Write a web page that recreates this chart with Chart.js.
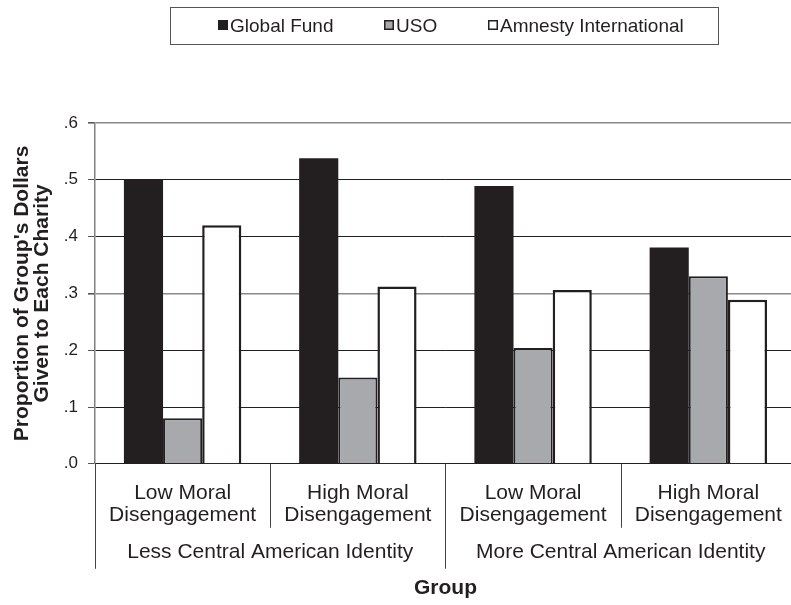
<!DOCTYPE html>
<html><head><meta charset="utf-8">
<script src="https://cdn.jsdelivr.net/npm/chart.js@4/dist/chart.umd.min.js"></script>
<style>
html,body{margin:0;padding:0;overflow:hidden;background:#fff;width:791px;height:605px}
#wrap{position:relative;width:800px;height:605px}
</style></head>
<body><div id="wrap"><canvas id="c" width="800" height="605"></canvas></div>
<script>
const categories = [['Low Moral','Disengagement'],['High Moral','Disengagement'],['Low Moral','Disengagement'],['High Moral','Disengagement']];
const groupLabels = ['Less Central American Identity','More Central American Identity'];
const seriesNames = ['Global Fund','USO','Amnesty International'];
const globalFund = [0.50, 0.538, 0.489, 0.381];
const uso = [0.08, 0.152, 0.204, 0.33];
const amnesty = [0.42, 0.312, 0.306, 0.289];
const yTickLabels = ['.0','.1','.2','.3','.4','.5','.6'];
const axisTitleY = ["Proportion of Group's Dollars", 'Given to Each Charity'];
const axisTitleX = 'Group';

const INK = '#231f20';
const FONT = "'Liberation Sans', Arial, sans-serif";
Chart.defaults.font.family = FONT;
Chart.defaults.color = INK;

const legendPlugin = {
  id: 'boxLegend',
  afterDraw(chart) {
    const ctx = chart.ctx;
    ctx.save();
    ctx.strokeStyle = '#555';
    ctx.lineWidth = 1;
    ctx.strokeRect(170.5, 7.5, 548, 37);
    const starts = [218, 384, 488];
    ctx.font = '19px ' + FONT;
    ctx.textBaseline = 'middle';
    ctx.textAlign = 'left';
    chart.data.datasets.forEach((ds, i) => {
      const x = starts[i];
      ctx.fillStyle = ds.backgroundColor;
      ctx.fillRect(x, 20, 10, 10);
      ctx.strokeStyle = INK;
      ctx.lineWidth = 1.5;
      ctx.strokeRect(x + 0.75, 20.75, 8.5, 8.5);
      ctx.fillStyle = INK;
      ctx.fillText(ds.label, x + 12, 27);
    });
    ctx.restore();
  }
};

const groupPlugin = {
  id: 'groupAxis',
  afterDraw(chart) {
    const xs = chart.scales.x;
    const ctx = chart.ctx;
    const n = categories.length;
    const half = (xs.getPixelForValue(1) - xs.getPixelForValue(0)) / 2;
    const bottom = chart.chartArea.bottom;
    ctx.save();
    ctx.strokeStyle = '#444';
    ctx.lineWidth = 1;
    for (let i = 0; i <= n; i++) {
      const x = (i < n ? xs.getPixelForValue(i) - half : xs.getPixelForValue(n - 1) + half);
      const len = (i % 2 === 0) ? 105 : 64;
      ctx.beginPath();
      ctx.moveTo(Math.round(x) + 0.5, bottom);
      ctx.lineTo(Math.round(x) + 0.5, bottom + len);
      ctx.stroke();
    }
    ctx.fillStyle = INK;
    ctx.font = '21px ' + FONT;
    ctx.textAlign = 'center';
    ctx.textBaseline = 'middle';
    groupLabels.forEach((g, k) => {
      const cx = (xs.getPixelForValue(2 * k) + xs.getPixelForValue(2 * k + 1)) / 2;
      ctx.fillText(g, cx, bottom + 88);
    });
    ctx.restore();
  }
};

new Chart(document.getElementById('c'), {
  type: 'bar',
  data: {
    labels: categories,
    datasets: [
      { label: seriesNames[0], data: globalFund, backgroundColor: INK, borderColor: INK, borderWidth: 0 },
      { label: seriesNames[1], data: uso, backgroundColor: '#a7a9ac', borderColor: INK, borderWidth: 2 },
      { label: seriesNames[2], data: amnesty, backgroundColor: '#ffffff', borderColor: INK, borderWidth: 2.5 }
    ]
  },
  options: {
    responsive: false,
    devicePixelRatio: 1,
    animation: false,
    categoryPercentage: 0.67,
    barPercentage: 1.0,
    layout: { padding: { top: 123, left: 12, right: 1, bottom: 4 } },
    plugins: { legend: { display: false }, tooltip: { enabled: false } },
    scales: {
      x: {
        offset: true,
        grid: { display: false, drawTicks: false },
        border: { display: true, color: INK, width: 1 },
        ticks: { font: { size: 21, lineHeight: '22px' }, color: INK, padding: 18, maxRotation: 0, autoSkip: false },
        title: { display: true, text: axisTitleX, font: { size: 21, weight: 'bold', lineHeight: 1.2 }, color: INK, padding: { top: 32, bottom: 0 } }
      },
      y: {
        min: 0, max: 0.6,
        ticks: { stepSize: 0.1, font: { size: 17 }, color: INK, padding: 10,
          callback: (v, i) => yTickLabels[i] },
        grid: {
          color: c => (c.tick && (Math.abs(c.tick.value - 0.3) < 1e-6 || Math.abs(c.tick.value - 0.6) < 1e-6)) ? '#8a8a8a' : INK,
          lineWidth: c => (c.tick && (Math.abs(c.tick.value - 0.3) < 1e-6 || Math.abs(c.tick.value - 0.6) < 1e-6)) ? 1.6 : 1,
          tickLength: 7, tickColor: '#555'
        },
        border: { display: true, color: '#808080', width: 1.5 },
        title: { display: true, text: axisTitleY, font: { size: 21, weight: 'bold', lineHeight: '20px' }, color: INK, padding: 0 },
        afterFit: s => { s.width = 83; }
      }
    }
  },
  plugins: [legendPlugin, groupPlugin]
});
</script>
</body></html>
